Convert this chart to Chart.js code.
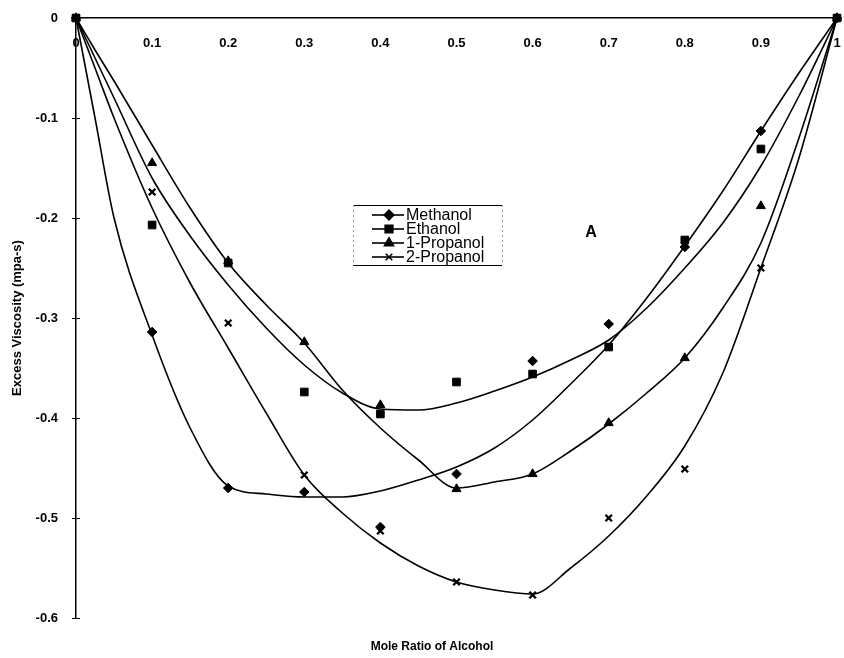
<!DOCTYPE html>
<html>
<head>
<meta charset="utf-8">
<script src="https://cdn.jsdelivr.net/npm/chart.js@4.4.1/dist/chart.umd.min.js"></script>
<style>
  body { margin: 0; background: #fff; }
  #wrap { width: 844px; height: 658px; }
</style>
</head>
<body>
<div id="wrap"><canvas id="myChart" width="844" height="658"></canvas></div>
<script>
// measured points
let moleRatio = [0, 0.1, 0.2, 0.3, 0.4, 0.5, 0.6, 0.7, 0.8, 0.9, 1];
let methanol  = [0, -0.314, -0.47, -0.474, -0.509, -0.456, -0.343, -0.306, -0.229, -0.113, 0];
let ethanol   = [0, -0.207, -0.245, -0.374, -0.396, -0.364, -0.356, -0.329, -0.222, -0.131, 0];
let propanol1 = [0, -0.145, -0.243, -0.324, -0.387, -0.471, -0.456, -0.405, -0.34, -0.188, 0];
let propanol2 = [0, -0.174, -0.305, -0.457, -0.513, -0.564, -0.577, -0.5, -0.451, -0.25, 0];

// fitted curves
let fitX = [0, 0.025, 0.05, 0.1, 0.15, 0.2, 0.25, 0.3, 0.35, 0.4, 0.45, 0.5, 0.55, 0.6, 0.65, 0.7, 0.75, 0.8, 0.85, 0.9, 0.95, 1];
let methanolFit  = [0, -0.1, -0.2, -0.317, -0.41, -0.468, -0.476, -0.479, -0.479, -0.473, -0.462, -0.449, -0.43, -0.402, -0.366, -0.327, -0.28, -0.228, -0.173, -0.113, -0.055, 0];
let ethanolFit   = [0, -0.04, -0.08, -0.16, -0.218, -0.267, -0.31, -0.347, -0.375, -0.391, -0.392, -0.385, -0.373, -0.359, -0.342, -0.322, -0.29, -0.25, -0.205, -0.148, -0.078, 0];
let propanol1Fit = [0, -0.032, -0.063, -0.127, -0.19, -0.245, -0.287, -0.325, -0.372, -0.41, -0.442, -0.47, -0.464, -0.456, -0.433, -0.406, -0.375, -0.34, -0.29, -0.225, -0.12, 0];
let propanol2Fit = [0, -0.05, -0.1, -0.19, -0.265, -0.33, -0.395, -0.457, -0.495, -0.525, -0.548, -0.564, -0.572, -0.576, -0.55, -0.518, -0.478, -0.428, -0.355, -0.25, -0.14, 0];

let seriesNames = ["Methanol", "Ethanol", "1-Propanol", "2-Propanol"];
let markerStyles = ["rectRot", "rect", "triangle", "crossRot"];
let markerSizes = [4.8, 5.4, 5.2, 4.6];

function pts(xs, ys) {
  return xs.map((x, i) => ({ x: x, y: ys[i] }));
}

let pointSets = [methanol, ethanol, propanol1, propanol2];
let fitSets = [methanolFit, ethanolFit, propanol1Fit, propanol2Fit];

let datasets = [];
for (let i = 0; i < 4; i++) {
  datasets.push({
    label: seriesNames[i],
    data: pts(moleRatio, pointSets[i]),
    showLine: false,
    pointStyle: markerStyles[i],
    pointRadius: markerSizes[i],
    pointBackgroundColor: "#000",
    pointBorderColor: "#000",
    pointBorderWidth: markerStyles[i] === "crossRot" ? 2.4 : 1,
    clip: false
  });
}
for (let i = 0; i < 4; i++) {
  datasets.push({
    label: seriesNames[i] + " fit",
    data: pts(fitX, fitSets[i]),
    showLine: true,
    borderColor: "#000",
    borderWidth: 1.6,
    pointRadius: 0,
    cubicInterpolationMode: "monotone",
    clip: false
  });
}

let fontFam = "'Liberation Sans', Arial, sans-serif";

// little legend box + "A" tag inside the plot
const boxLegend = {
  id: "boxLegend",
  afterDraw(chart) {
    const ctx = chart.ctx;
    const left = 353, top = 205, right = 502, bottom = 265;
    ctx.save();
    ctx.fillStyle = "#fff";
    ctx.fillRect(left, top, right - left, bottom - top);
    ctx.strokeStyle = "#000";
    ctx.lineWidth = 1;
    ctx.beginPath();
    ctx.moveTo(left, top + 0.5); ctx.lineTo(right, top + 0.5);
    ctx.moveTo(left, bottom + 0.5); ctx.lineTo(right, bottom + 0.5);
    ctx.stroke();
    ctx.strokeStyle = "#999";
    ctx.setLineDash([2, 3]);
    ctx.beginPath();
    ctx.moveTo(left + 0.5, top); ctx.lineTo(left + 0.5, bottom);
    ctx.moveTo(right + 0.5, top); ctx.lineTo(right + 0.5, bottom);
    ctx.stroke();
    ctx.setLineDash([]);

    ctx.font = "16px " + fontFam;
    ctx.textBaseline = "middle";
    ctx.textAlign = "left";
    for (let i = 0; i < seriesNames.length; i++) {
      const y = 215 + i * 14;
      ctx.strokeStyle = "#000";
      ctx.lineWidth = 1.6;
      ctx.beginPath();
      ctx.moveTo(372, y); ctx.lineTo(404, y);
      ctx.stroke();
      Chart.helpers.drawPoint(ctx, {
        pointStyle: markerStyles[i],
        radius: markerSizes[i],
        rotation: 0,
        borderWidth: markerStyles[i] === "crossRot" ? 2.4 : 1
      }, 389, y);
      ctx.fillStyle = "#000";
      ctx.fill();
      ctx.fillText(seriesNames[i], 406, y + 1);
    }

    ctx.font = "bold 16px " + fontFam;
    ctx.textAlign = "center";
    ctx.fillText("A", 591, 233);

    // y ticks cross the axis
    const ys = chart.scales.y;
    ctx.strokeStyle = "#000";
    ctx.lineWidth = 1;
    ys.ticks.forEach(t => {
      const py = Math.round(ys.getPixelForValue(t.value)) + 0.5;
      ctx.beginPath();
      ctx.moveTo(ys.right - 4, py); ctx.lineTo(ys.right + 4, py);
      ctx.stroke();
    });
    ctx.restore();
  }
};

new Chart("myChart", {
  type: "scatter",
  data: { datasets: datasets },
  plugins: [boxLegend],
  options: {
    responsive: false,
    animation: false,
    layout: { padding: { top: 18, left: 20, right: 0, bottom: 0 } },
    plugins: {
      legend: { display: false },
      tooltip: { enabled: false },
      title: {
        display: true,
        position: "bottom",
        text: "Mole Ratio of Alcohol",
        color: "#000",
        font: { family: fontFam, size: 12, weight: "bold" },
        padding: { top: 21.6, bottom: 4 }
      }
    },
    scales: {
      x: {
        type: "linear",
        position: { y: 0 },
        min: 0,
        max: 1,
        afterFit: s => { s.height = 0; },
        ticks: {
          stepSize: 0.1,
          autoSkip: false,
          maxRotation: 0,
          padding: 0,
          color: "#000",
          font: { family: fontFam, size: 13, weight: "bold" },
          callback: v => String(Math.round(v * 10) / 10)
        },
        grid: { drawOnChartArea: false, drawTicks: true, tickLength: 18, tickColor: "rgba(0,0,0,0)" },
        border: { color: "#000", width: 1.5 }
      },
      y: {
        min: -0.6,
        max: 0,
        afterFit: s => { s.width = 56; },
        ticks: {
          stepSize: 0.1,
          padding: 0,
          color: "#000",
          font: { family: fontFam, size: 13, weight: "bold" },
          callback: v => String(Math.round(v * 10) / 10)
        },
        grid: { drawOnChartArea: false, drawTicks: true, tickLength: 18, tickColor: "rgba(0,0,0,0)" },
        border: { color: "#000", width: 1.5 },
        title: {
          display: true,
          text: "Excess Viscosity (mpa-s)",
          color: "#000",
          font: { family: fontFam, size: 13, weight: "bold" },
          padding: { top: -10, bottom: 0 }
        }
      }
    }
  }
});
</script>
</body>
</html>
